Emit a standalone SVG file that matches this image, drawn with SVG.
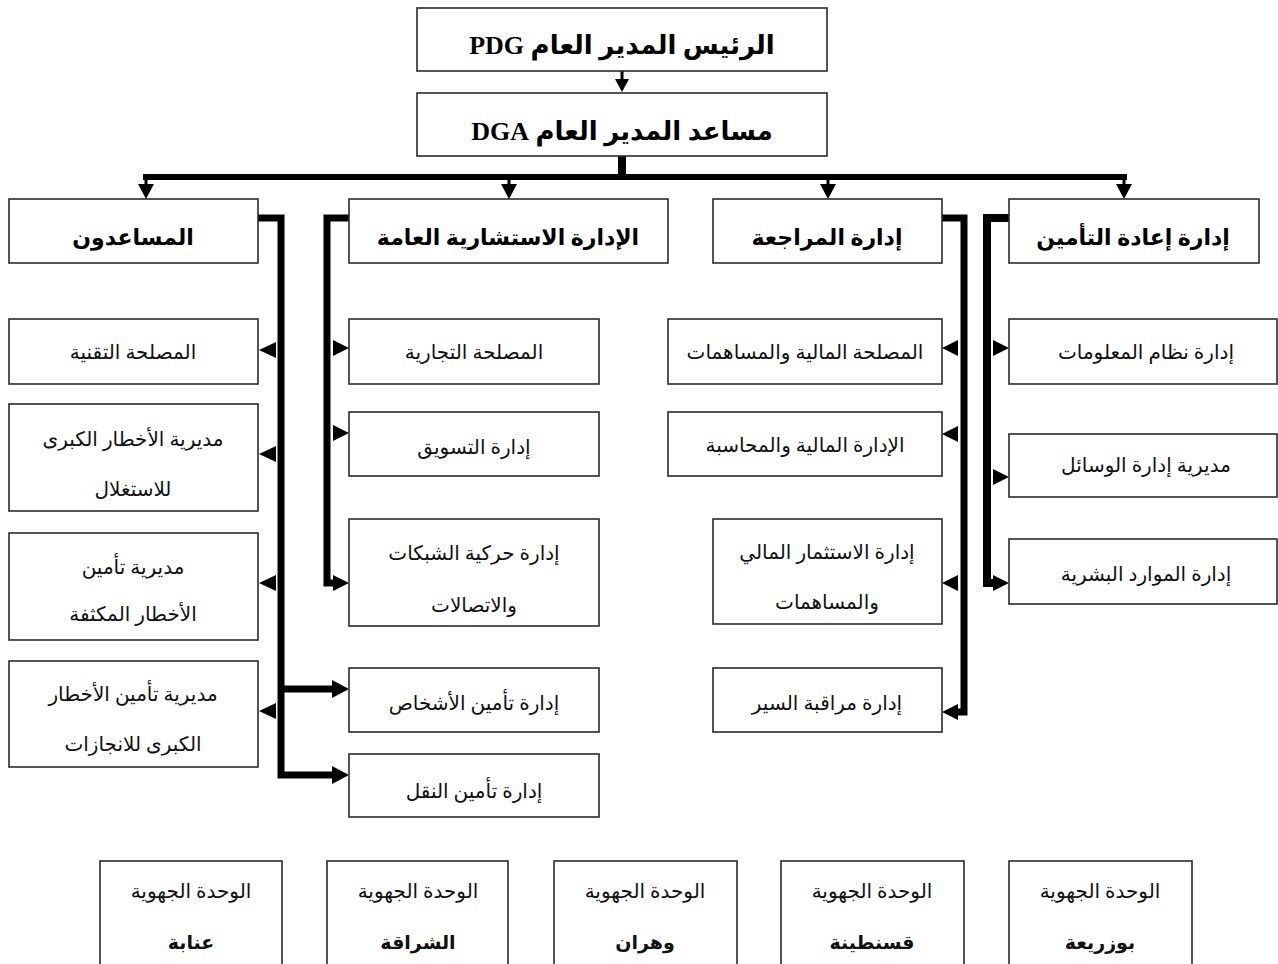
<svg xmlns="http://www.w3.org/2000/svg" width="1278" height="964" viewBox="0 0 1278 964">
<style>
.box{fill:#fff;stroke:#2b2b2b;stroke-width:1.6}
.t{font-family:'Liberation Serif','DejaVu Sans',serif;font-size:20px;fill:#111;text-anchor:middle;direction:rtl}
.b{font-family:'Liberation Serif','DejaVu Sans',serif;font-size:22px;font-weight:bold;fill:#000;text-anchor:middle;direction:rtl}
.big{font-size:26px}
.city{font-size:19px;font-weight:bold}
.c{fill:none;stroke:#000;stroke-linejoin:miter}
.ah{fill:#000}
</style>
<rect width="1278" height="964" fill="#fff"/>

<g id="connectors">
  <line class="c" x1="622" y1="71" x2="622" y2="81" stroke-width="3"/>
  <polygon class="ah" points="615,79 629,79 622,92"/>
  <line class="c" x1="622" y1="156" x2="622" y2="178" stroke-width="8"/>
  <line class="c" x1="143" y1="177" x2="1127" y2="177" stroke-width="6"/>
  <line class="c" x1="146" y1="177" x2="146" y2="187" stroke-width="3"/>
  <polygon class="ah" points="138,184 154,184 146,199"/>
  <line class="c" x1="509" y1="177" x2="509" y2="187" stroke-width="3"/>
  <polygon class="ah" points="501,184 517,184 509,199"/>
  <line class="c" x1="828" y1="177" x2="828" y2="187" stroke-width="3"/>
  <polygon class="ah" points="820,184 836,184 828,199"/>
  <line class="c" x1="1124" y1="177" x2="1124" y2="187" stroke-width="3"/>
  <polygon class="ah" points="1116,184 1132,184 1124,199"/>

  <path class="c" d="M258 218 H281 V775 H335" stroke-width="7"/>
  <path class="c" d="M281 689 H335" stroke-width="7"/>
  <polygon class="ah" points="332,680 332,698 349,689"/>
  <polygon class="ah" points="332,766 332,784 349,775"/>
  <polygon class="ah" points="276,342 276,358 259,350"/>
  <polygon class="ah" points="276,446 276,462 259,454"/>
  <polygon class="ah" points="276,575 276,591 259,583"/>
  <polygon class="ah" points="276,703 276,719 259,711"/>

  <path class="c" d="M349 218 H327 V583 H337" stroke-width="7"/>
  <polygon class="ah" points="333,340 333,356 349,348"/>
  <polygon class="ah" points="333,425 333,441 349,433"/>
  <polygon class="ah" points="333,575 333,591 349,583"/>

  <path class="c" d="M942 218 H964 V712 H954" stroke-width="7"/>
  <polygon class="ah" points="958,340 958,356 942,348"/>
  <polygon class="ah" points="958,426 958,442 942,434"/>
  <polygon class="ah" points="958,575 958,591 942,583"/>
  <polygon class="ah" points="958,704 958,720 942,712"/>

  <path class="c" d="M1009 218 H987 V583 H996" stroke-width="8"/>
  <polygon class="ah" points="993,340 993,356 1009,348"/>
  <polygon class="ah" points="993,469 993,485 1009,477"/>
  <polygon class="ah" points="993,575 993,591 1009,583"/>
</g>

<g id="pdg"><rect class="box" x="417" y="8" width="410" height="63"/><text class="b big" x="622" y="54">الرئيس المدير العام  PDG</text></g>
<g id="dga"><rect class="box" x="417" y="93" width="410" height="63"/><text class="b big" x="622" y="140">مساعد المدير العام  DGA</text></g>

<g id="assistants"><rect class="box" x="9" y="199" width="249" height="64"/><text class="b" x="133" y="245">المساعدون</text></g>
<g id="consult"><rect class="box" x="349" y="199" width="319" height="64"/><text class="b" x="508" y="245">الإدارة الاستشارية العامة</text></g>
<g id="audit"><rect class="box" x="713" y="199" width="229" height="64"/><text class="b" x="827" y="245">إدارة المراجعة</text></g>
<g id="reins"><rect class="box" x="1009" y="199" width="250" height="64"/><text class="b" x="1133" y="245">إدارة إعادة التأمين</text></g>

<g id="tech"><rect class="box" x="9" y="319" width="249" height="65"/><text class="t" x="133" y="359">المصلحة التقنية</text></g>
<g id="bigrisk"><rect class="box" x="9" y="404" width="249" height="107"/><text class="t" x="133" y="446">مديرية الأخطار الكبرى</text><text class="t" x="133" y="496">للاستغلال</text></g>
<g id="denserisk"><rect class="box" x="9" y="533" width="249" height="107"/><text class="t" x="133" y="574">مديرية تأمين</text><text class="t" x="133" y="621">الأخطار المكثفة</text></g>
<g id="bigriskproj"><rect class="box" x="9" y="661" width="249" height="106"/><text class="t" x="133" y="701">مديرية تأمين الأخطار</text><text class="t" x="133" y="751">الكبرى للانجازات</text></g>

<g id="commercial"><rect class="box" x="349" y="319" width="250" height="65"/><text class="t" x="474" y="359">المصلحة التجارية</text></g>
<g id="marketing"><rect class="box" x="349" y="412" width="250" height="64"/><text class="t" x="474" y="454">إدارة التسويق</text></g>
<g id="networks"><rect class="box" x="349" y="519" width="250" height="107"/><text class="t" x="474" y="560">إدارة حركية الشبكات</text><text class="t" x="474" y="612">والاتصالات</text></g>
<g id="persons"><rect class="box" x="349" y="668" width="250" height="64"/><text class="t" x="474" y="710">إدارة تأمين الأشخاص</text></g>
<g id="transport"><rect class="box" x="349" y="754" width="250" height="63"/><text class="t" x="474" y="798">إدارة تأمين النقل</text></g>

<g id="finserv"><rect class="box" x="668" y="319" width="274" height="65"/><text class="t" x="805" y="359">المصلحة المالية والمساهمات</text></g>
<g id="finacc"><rect class="box" x="668" y="412" width="274" height="64"/><text class="t" x="805" y="452">الإدارة المالية والمحاسبة</text></g>
<g id="invest"><rect class="box" x="713" y="519" width="229" height="105"/><text class="t" x="827" y="559">إدارة الاستثمار المالي</text><text class="t" x="827" y="609">والمساهمات</text></g>
<g id="control"><rect class="box" x="713" y="668" width="229" height="64"/><text class="t" x="827" y="710">إدارة مراقبة السير</text></g>

<g id="infosys"><rect class="box" x="1009" y="319" width="268" height="65"/><text class="t" x="1146" y="359">إدارة نظام المعلومات</text></g>
<g id="means"><rect class="box" x="1009" y="434" width="268" height="63"/><text class="t" x="1146" y="472">مديرية إدارة الوسائل</text></g>
<g id="hr"><rect class="box" x="1009" y="539" width="268" height="65"/><text class="t" x="1146" y="581">إدارة الموارد البشرية</text></g>

<g id="annaba"><rect class="box" x="100" y="861" width="182" height="120"/><text class="t" x="191" y="898">الوحدة الجهوية</text><text class="t city" x="191" y="949">عنابة</text></g>
<g id="cheraga"><rect class="box" x="327" y="861" width="181" height="120"/><text class="t" x="418" y="898">الوحدة الجهوية</text><text class="t city" x="418" y="949">الشراقة</text></g>
<g id="oran"><rect class="box" x="554" y="861" width="183" height="120"/><text class="t" x="645" y="898">الوحدة الجهوية</text><text class="t city" x="645" y="949">وهران</text></g>
<g id="constantine"><rect class="box" x="781" y="861" width="183" height="120"/><text class="t" x="872" y="898">الوحدة الجهوية</text><text class="t city" x="872" y="949">قسنطينة</text></g>
<g id="bouzareah"><rect class="box" x="1009" y="861" width="183" height="120"/><text class="t" x="1100" y="898">الوحدة الجهوية</text><text class="t city" x="1100" y="949">بوزريعة</text></g>
</svg>
